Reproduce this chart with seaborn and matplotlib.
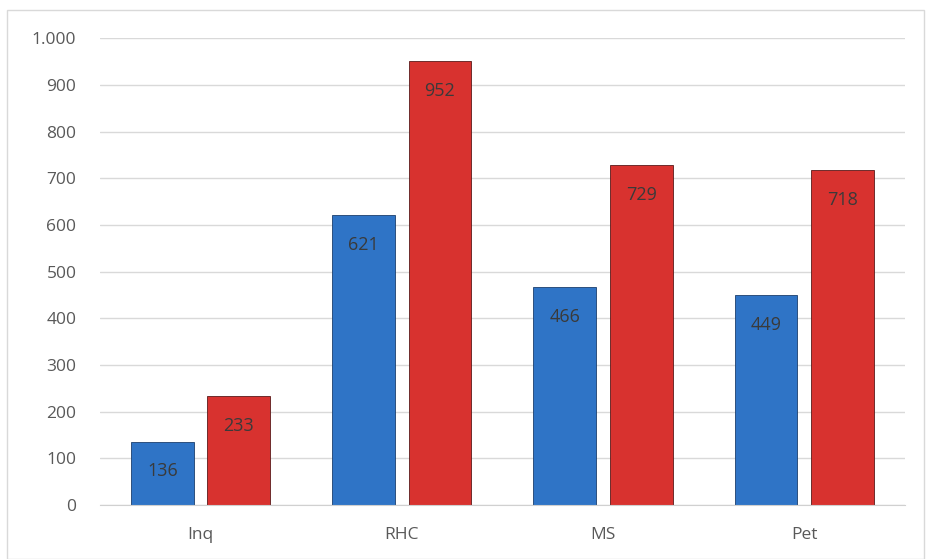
import pandas as pd
import matplotlib.pyplot as plt
import seaborn as sns
from matplotlib.patches import Rectangle

# Data
categories = ['Inq', 'RHC', 'MS', 'Pet']
series_a = [136, 621, 466, 449]
series_b = [233, 952, 729, 718]

df = pd.DataFrame({
    'category': categories * 2,
    'value': series_a + series_b,
    'series': ['A'] * 4 + ['B'] * 4,
})

sns.set_style('white')
plt.rcParams['font.family'] = ['Open Sans', 'DejaVu Sans']

fig = plt.figure(figsize=(9.26, 5.59), dpi=100)
ax = fig.add_axes([0.108, 0.0966, 0.869, 0.835])

sns.barplot(data=df, x='category', y='value', hue='series', ax=ax,
            palette=['#2F74C6', '#D8322F'], width=0.76, gap=0.18,
            saturation=1, edgecolor='#5a1a1a', linewidth=0.6, legend=False)

# darker edges for blue bars
for patch in ax.containers[0]:
    patch.set_edgecolor('#1b3f6e')

for cont in ax.containers:
    ax.bar_label(cont, padding=-28, fontsize=13, color='#3a3a3a')

ax.set_ylim(0, 1000)
ax.set_xlim(-0.5, 3.5)
ax.set_yticks(range(0, 1001, 100))
ax.set_yticklabels(['0', '100', '200', '300', '400', '500', '600', '700', '800', '900', '1.000'])
ax.yaxis.grid(True, color='#d9d9d9', linewidth=1)
ax.set_axisbelow(True)
ax.set_xlabel('')
ax.set_ylabel('')
ax.tick_params(axis='both', length=0, labelsize=12.5, labelcolor='#595959')
ax.tick_params(axis='y', pad=17)
ax.tick_params(axis='x', pad=16)
for s in ['top', 'right', 'left']:
    ax.spines[s].set_visible(False)
ax.spines['bottom'].set_color('#d0d0d0')

# outer chart border
fig.patches.append(Rectangle((0.008, 0.0), 0.99, 0.982, transform=fig.transFigure,
                             fill=False, edgecolor='#d9d9d9', linewidth=1))

fig.savefig('out.png', dpi=100)
